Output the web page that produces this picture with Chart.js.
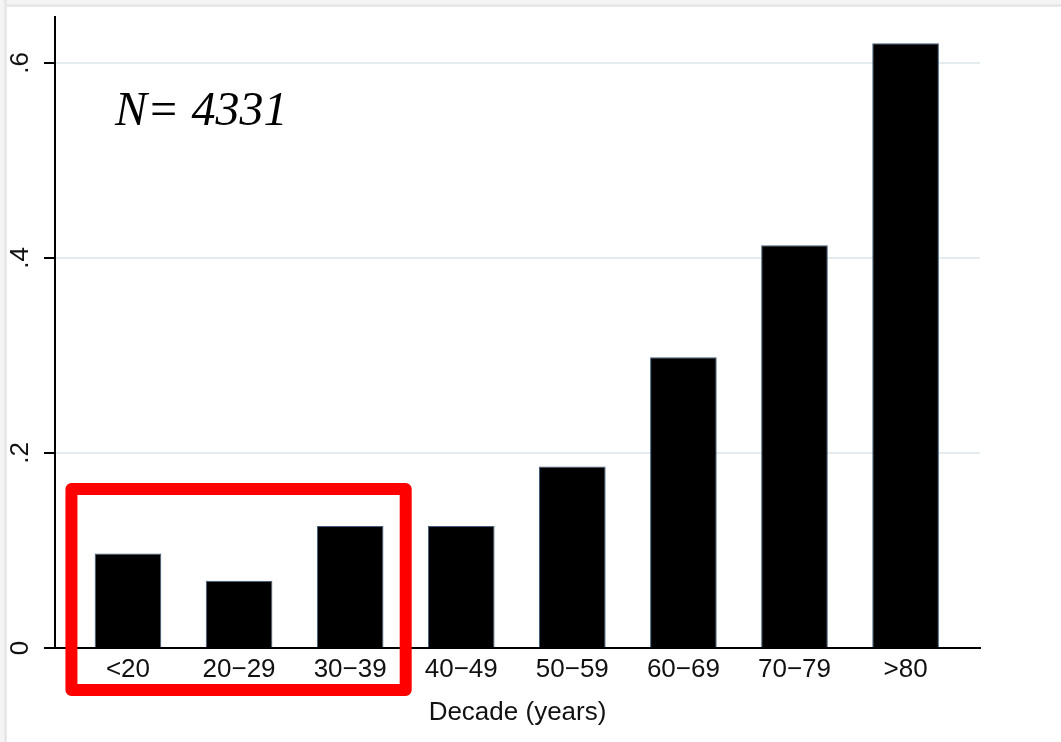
<!DOCTYPE html>
<html>
<head>
<meta charset="utf-8">
<script src="https://cdn.jsdelivr.net/npm/chart.js@4/dist/chart.umd.min.js"></script>
<style>
  html, body { margin: 0; padding: 0; background: #ffffff; overflow: hidden; }
  #wrap { position: relative; width: 1061px; height: 742px; }
  #wrap canvas { position: absolute; left: 0; top: 0; }
  .edge-top { position: absolute; left: 0; top: 0; width: 1061px; height: 7px;
              background: linear-gradient(#f4f4f4 0 4px, #e8e8e8 4px 7px); }
  .edge-left { position: absolute; left: 0; top: 0; width: 7px; height: 742px;
               background: linear-gradient(90deg, #f4f4f4 0 4px, #e8e8e8 4px 7px); }
</style>
</head>
<body>
<div id="wrap">
  <canvas id="chart" width="1061" height="742"></canvas>
  <div class="edge-top"></div>
  <div class="edge-left"></div>
</div>
<script>
// Age groups (decades) and the share in each
const decades = ['<20', '20\u221229', '30\u221239', '40\u221249', '50\u221259', '60\u221269', '70\u221279', '>80'];
const shares = [0.097, 0.069, 0.125, 0.125, 0.186, 0.298, 0.413, 0.620];

// Y axis ticks and their labels
const yTickValues = [0, 0.2, 0.4, 0.6];
const yTickLabels = ['0', '.2', '.4', '.6'];

const xTitle = 'Decade (years)';
const sampleNote = 'N= 4331';

// Groups outlined by the red frame
const frameFirst = 0;
const frameLast = 2;
const frameTopValue = 0.163;

const FONT = '"Liberation Sans", Arial, sans-serif';

// Red outline around the first decades
const frameOutline = {
  id: 'frameOutline',
  afterDraw(chart) {
    const { ctx, chartArea } = chart;
    const xs = chart.scales.x, ys = chart.scales.y;
    const left = xs.getPixelForValue(frameFirst - 0.5) - 1;
    const right = xs.getPixelForValue(frameLast + 0.5);
    const top = ys.getPixelForValue(frameTopValue);
    const bottom = chartArea.bottom + 42;
    ctx.save();
    ctx.strokeStyle = '#ff0000';
    ctx.lineWidth = 12;
    ctx.lineJoin = 'round';
    ctx.strokeRect(left, top, right - left, bottom - top);
    ctx.restore();
  }
};

// Sample size note inside the plot
const noteText = {
  id: 'noteText',
  afterDraw(chart) {
    const { ctx, chartArea } = chart;
    ctx.save();
    ctx.fillStyle = '#000000';
    ctx.font = 'italic 48px "Liberation Serif", "Times New Roman", serif';
    ctx.textAlign = 'left';
    ctx.textBaseline = 'alphabetic';
    ctx.fillText(sampleNote, chartArea.left + 60, chartArea.top + 108);
    ctx.restore();
  }
};

function clearPadding(scale) {
  scale.paddingTop = 0;
  scale.paddingBottom = 0;
  scale.paddingLeft = 0;
  scale.paddingRight = 0;
}

new Chart(document.getElementById('chart'), {
  type: 'bar',
  data: {
    datasets: [{
      data: shares.map((v, i) => ({ x: i, y: v })),
      backgroundColor: '#000000',
      borderColor: '#3f5f7f',
      borderWidth: 1,
      barPercentage: 0.6,
      categoryPercentage: 1.0
    }]
  },
  options: {
    responsive: false,
    animation: false,
    devicePixelRatio: 1,
    layout: { padding: { left: 0, top: 17, right: 81, bottom: 0 } },
    plugins: {
      legend: { display: false },
      tooltip: { enabled: false },
      title: { display: false }
    },
    scales: {
      x: {
        type: 'linear',
        offset: false,
        min: -0.657,
        max: 7.67,
        afterBuildTicks: (scale) => { scale.ticks = decades.map((_, i) => ({ value: i })); },
        afterFit: (scale) => { scale.height = 94; clearPadding(scale); },
        grid: { display: true, drawOnChartArea: false, drawTicks: false, offset: false },
        border: { display: true, color: '#000000', width: 2 },
        ticks: {
          autoSkip: false,
          maxRotation: 0,
          minRotation: 0,
          padding: 6,
          color: '#111111',
          font: { family: FONT, size: 26 },
          callback: (v) => decades[v]
        },
        title: {
          display: true,
          text: xTitle,
          color: '#111111',
          font: { family: FONT, size: 26 },
          padding: { top: 0, bottom: 14 }
        }
      },
      y: {
        min: 0,
        max: 0.647,
        afterBuildTicks: (scale) => { scale.ticks = yTickValues.map(v => ({ value: v })); },
        afterFit: (scale) => { scale.width = 55; clearPadding(scale); },
        grid: {
          color: (c) => (c.tick && c.tick.value === 0 ? 'rgba(0,0,0,0)' : '#e4ecef'),
          lineWidth: 2,
          drawTicks: true,
          tickLength: 11,
          tickColor: '#000000',
          tickWidth: 2
        },
        border: { display: true, color: '#000000', width: 2 },
        ticks: {
          minRotation: 90,
          maxRotation: 90,
          crossAlign: 'center',
          padding: 12,
          color: '#111111',
          font: { family: FONT, size: 26 },
          callback: (v) => {
            const k = yTickValues.indexOf(v);
            return k >= 0 ? yTickLabels[k] : '';
          }
        }
      }
    }
  },
  plugins: [frameOutline, noteText]
});
</script>
</body>
</html>
